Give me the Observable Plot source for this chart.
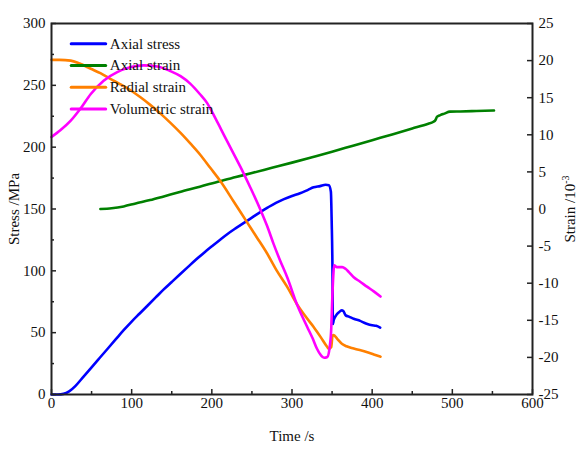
<!DOCTYPE html>
<html>
<head>
<meta charset="utf-8">
<script src="https://cdn.jsdelivr.net/npm/d3@7"></script>
<script src="https://cdn.jsdelivr.net/npm/@observablehq/plot@0.6"></script>
<style>
  body { margin: 0; background: #fff; }
  #chart svg { display: block; }
</style>
</head>
<body>
<div id="chart"></div>
<script>
// Uniaxial compression test: stress (left axis, MPa) and strains (right axis, 10^-3) against time (s)

const stressTime = [0, 8, 15, 22, 30, 40, 50, 60, 70, 80, 90, 100, 110, 120, 130, 140, 150, 160, 170, 180,
  190, 200, 210, 220, 230, 240, 250, 260, 270, 280, 290, 300, 310, 320, 327, 335, 342, 346, 348.5, 349.5,
  350.5, 351, 352, 355, 358.5, 362, 364, 367, 371, 377, 385, 390, 394, 400, 405, 410];
const stressValues = [0, 0, 0.5, 2.5, 7, 14.5, 22, 29.5, 37, 44.5, 52, 59, 65.5, 72, 78.5, 85, 91, 97, 103, 109,
  114.5, 119.8, 125, 130, 134.5, 138.8, 143, 147.3, 151.3, 155, 158, 160.5, 162.7, 165.5, 167.5, 168.5, 169.6, 169.2, 164, 140,
  100, 57, 60, 64, 66.5, 68, 67.5, 64, 63, 61.2, 59.5, 58, 57, 56, 55.5, 54];

const axialStrainTime = [61, 75, 90, 105, 123, 140, 160, 185, 210, 230, 250, 275, 300, 325, 350, 375, 400,
  425, 450, 470, 476, 479, 481, 485, 490, 497, 510, 530, 552];
const axialStrainValues = [0, 0.1, 0.35, 0.75, 1.2, 1.7, 2.3, 3.0, 3.75, 4.3, 4.85, 5.55, 6.25, 6.98, 7.72, 8.5, 9.28,
  10.05, 10.85, 11.5, 11.72, 12.0, 12.45, 12.65, 12.85, 13.12, 13.15, 13.2, 13.27];

const radialStrainTime = [0, 10, 24, 35, 49, 61, 74, 86, 98.5, 111, 123.5, 136, 148.4, 161, 173.4, 186, 198, 211,
  227, 244, 256, 269, 281, 294, 306, 317, 327, 336, 344, 346, 349, 350.5, 352, 356.4, 362.6, 368, 377, 394, 402, 410.4];
const radialStrainValues = [20.1, 20.1, 20.0, 19.6, 18.9, 18.3, 17.5, 16.8, 16.0, 15.05, 14.0, 12.85, 11.6, 10.25, 8.8, 7.25, 5.55, 3.7,
  1.05, -1.8, -3.8, -6.0, -8.3, -10.5, -12.8, -14.5, -15.9, -17.3, -18.6, -18.85, -18.6, -17.1, -17.0, -17.5, -18.2, -18.5, -18.8, -19.3, -19.6, -19.9];

const volStrainTime = [0, 11, 24, 36, 49, 65, 82, 98, 115, 132, 148, 161, 173, 185, 194, 205, 215, 225, 236, 248,
  261, 269, 277, 285, 294, 306, 319, 326, 331, 336, 340, 344, 347, 349, 350, 351.5, 352.5, 356, 362.6, 366.7,
  371, 377, 385, 394, 402, 410.4];
const volStrainValues = [9.7, 10.6, 11.9, 13.5, 15.5, 17.3, 18.45, 19.1, 19.35, 19.2, 18.6, 17.9, 16.9, 15.5, 14.3, 12.1, 10.0, 7.9, 5.6, 2.9,
  -0.2, -2.3, -4.7, -6.9, -9.2, -12.8, -15.9, -17.5, -18.8, -19.7, -20.05, -19.95, -18.6, -16, -12.8, -9, -7.6, -7.84, -7.84, -8.06,
  -8.5, -9.19, -9.8, -10.5, -11.1, -11.8];

const timeTicks = [0, 100, 200, 300, 400, 500, 600];
const timeMinorTicks = [50, 150, 250, 350, 450, 550];
const stressTicks = [0, 50, 100, 150, 200, 250, 300];
const stressMinorTicks = [25, 75, 125, 175, 225, 275];
const strainTicks = [-25, -20, -15, -10, -5, 0, 5, 10, 15, 20, 25];

const seriesNames = ["Axial stress", "Axial strain", "Radial strain", "Volumetric strain"];
const seriesColors = ["#0000ff", "#008000", "#ff8000", "#ff00ff"];

// The strain axis (−25…25) shares the stress scale (0…300)
const strainToStress = s => 150 + s * 6;
const stressToStrain = v => Math.round((v - 150) / 6);

const axisColor = "#222";
const font = "'Liberation Serif', 'Times New Roman', serif";
const lineStyle = {strokeWidth: 2.6, curve: "monotone-x"};

const lineShape = { draw(context, l) { context.moveTo(0, 0); context.lineTo(0, -l); } };

const legendMarks = seriesNames.flatMap((name, i) => {
  const rowY = 20.3 + i * 21.7;
  return [
    Plot.vector([name], {frameAnchor: "top-left", dx: 19.7, dy: rowY, rotate: 90, length: 34.5,
      anchor: "start", shape: lineShape, stroke: seriesColors[i], strokeWidth: 3}),
    Plot.text([name], {frameAnchor: "top-left", dx: 58.3, dy: rowY, textAnchor: "start",
      lineAnchor: "middle", fontSize: 15, fill: "#111"})
  ];
});

const chart = Plot.plot({
  width: 584,
  height: 457,
  marginLeft: 51,
  marginRight: 52,
  marginTop: 23,
  marginBottom: 63,
  style: {fontFamily: font, fontSize: "15px", background: "#fff", color: "#111"},
  x: {domain: [0, 600]},
  y: {domain: [0, 300]},
  marks: [
    Plot.line(stressValues, {x: stressTime, y: stressValues, stroke: seriesColors[0], ...lineStyle}),
    Plot.line(axialStrainValues, {x: axialStrainTime, y: axialStrainValues.map(strainToStress), stroke: seriesColors[1], ...lineStyle}),
    Plot.line(radialStrainValues, {x: radialStrainTime, y: radialStrainValues.map(strainToStress), stroke: seriesColors[2], ...lineStyle}),
    Plot.line(volStrainValues, {x: volStrainTime, y: volStrainValues.map(strainToStress), stroke: seriesColors[3], ...lineStyle}),

    // bottom axis: labelled majors and short minors, ticks pointing inward
    Plot.axisX(timeTicks, {anchor: "bottom", tickSize: -5, tickPadding: 8, strokeWidth: 1.5, stroke: axisColor, label: null, fontSize: 15}),
    Plot.axisX(timeMinorTicks, {anchor: "bottom", tickSize: -3, tickFormat: () => "", strokeWidth: 1.5, stroke: axisColor, label: null}),

    // left stress axis
    Plot.axisY(stressTicks, {anchor: "left", tickSize: -5, tickPadding: 11, strokeWidth: 1.5, stroke: axisColor, label: null, fontSize: 15}),
    Plot.axisY(stressMinorTicks, {anchor: "left", tickSize: -3, tickFormat: () => "", strokeWidth: 1.5, stroke: axisColor, label: null}),

    // right strain axis
    Plot.axisY(strainTicks.map(strainToStress), {anchor: "right", tickSize: -6, tickPadding: 12, tickFormat: stressToStrain,
      strokeWidth: 1.5, stroke: axisColor, label: null, fontSize: 15}),

    Plot.frame({stroke: axisColor, strokeWidth: 2}),

    Plot.text(["Time /s"], {frameAnchor: "bottom", dy: 46, lineAnchor: "bottom", textAnchor: "middle", fontSize: 15, fill: "#111"}),
    Plot.text(["Stress /MPa"], {frameAnchor: "left", dx: -37.5, rotate: -90, textAnchor: "middle", fontSize: 15, fill: "#111"}),
    Plot.text(["Strain /10"], {frameAnchor: "right", dx: 38, rotate: -90, textAnchor: "middle", fontSize: 15, fill: "#111"}),

    ...legendMarks
  ]
});

// superscript exponent on the strain unit
d3.select(chart).selectAll("text").each(function () {
  if (this.textContent === "Strain /10") {
    d3.select(this).append("tspan").attr("dy", "-6").attr("font-size", 10).text("-3");
  }
});

document.getElementById("chart").append(chart);
</script>
</body>
</html>
